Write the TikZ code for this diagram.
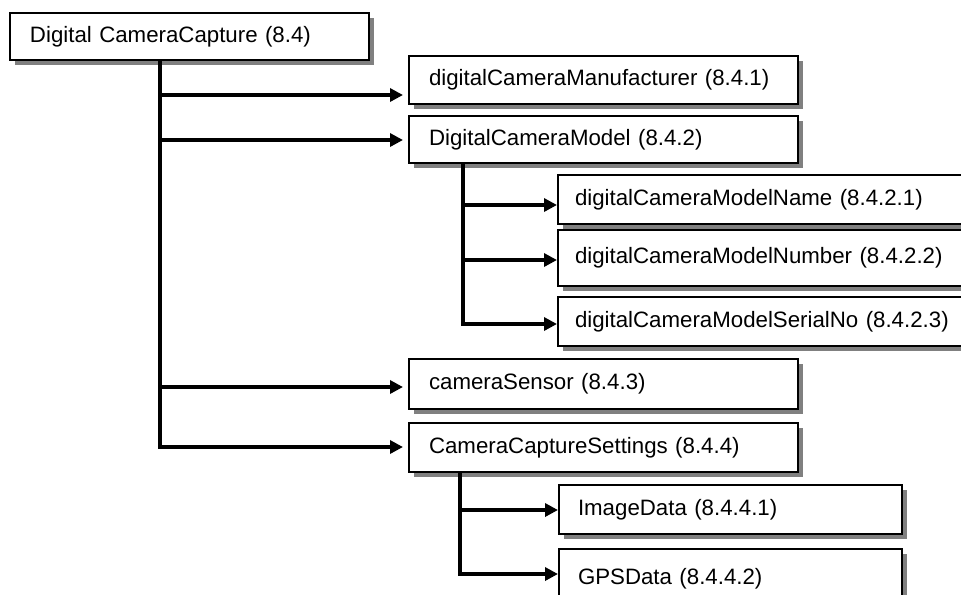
\documentclass[tikz,border=0pt]{standalone}
\usepackage{fontspec}
\setmainfont{Liberation Sans}
\usetikzlibrary{shadows,arrows.meta,calc}
\definecolor{shadowgray}{RGB}{128,128,128}
\begin{document}
\begin{tikzpicture}[x=0.75pt,y=-0.75pt,
  box/.style={draw=black, line width=1.5pt, fill=white, anchor=north west,
    inner ysep=0pt, align=left,
    drop shadow={shadow xshift=3.75pt, shadow yshift=-3.75pt, fill=shadowgray, opacity=1},
    font=\fontsize{16.7pt}{20pt}\selectfont},
  mainbox/.style={box, inner xsep=15pt, text width=261.75pt},
  subbox/.style={box, inner xsep=12.75pt, text width=306.75pt},
  leafbox/.style={box, inner xsep=14.25pt, text width=228.75pt},
  conn/.style={line width=3pt, draw=black},
  arr/.style={conn, -{Triangle[length=9.75pt, width=9.75pt]}},
  mainarr/.style={arr, shorten >=3.75pt},
]
\useasboundingbox (0,0) rectangle (961,594);
\clip (0,0) rectangle (961,594);

\node[box, inner xsep=15pt, text width=239.25pt, minimum height=35.25pt] (root) at (9,12) {Digital CameraCapture (8.4)};

\node[mainbox, minimum height=36pt] (b1) at (408,55) {digitalCameraManufacturer (8.4.1)};
\node[mainbox, minimum height=35.25pt] (b2) at (408,115) {DigitalCameraModel (8.4.2)};
\node[subbox, minimum height=36.75pt] (m1) at (557,174) {digitalCameraModelName (8.4.2.1)};
\node[subbox, minimum height=42pt] (m2) at (557,229) {digitalCameraModelNumber (8.4.2.2)};
\node[subbox, minimum height=36.75pt] (m3) at (557,296) {digitalCameraModelSerialNo (8.4.2.3)};
\node[mainbox, minimum height=37.5pt] (b3) at (408,358) {cameraSensor (8.4.3)};
\node[mainbox, minimum height=36.75pt] (b4) at (408,422) {CameraCaptureSettings (8.4.4)};
\node[leafbox, minimum height=36.75pt] (s1) at (558,484) {ImageData (8.4.4.1)};
\node[leafbox, minimum height=45pt] (s2) at (558,548) {GPSData (8.4.4.2)};

% main trunk
\coordinate (t0) at (root.south -| 160,0);
\path ($(b1.south west)+(0,-10)$) coordinate (e1);
\path ($(b2.south west)+(0,-24)$) coordinate (e2);
\path ($(b3.south west)+(0,-23)$) coordinate (e3);
\path ($(b4.south west)+(0,-26)$) coordinate (e4);
\draw[mainarr] (t0) |- (e4);
\draw[mainarr] (t0 |- e1) -- (e1);
\draw[mainarr] (t0 |- e2) -- (e2);
\draw[mainarr] (t0 |- e3) -- (e3);

% model sub trunk
\coordinate (t1) at (b2.south -| 463,0);
\path ($(m1.south west)+(0,-20)$) coordinate (f1);
\path ($(m2.south west)+(0,-27)$) coordinate (f2);
\path ($(m3.south west)+(0,-23)$) coordinate (f3);
\draw[arr] (t1) |- (f3);
\draw[arr] (t1 |- f1) -- (f1);
\draw[arr] (t1 |- f2) -- (f2);

% settings sub trunk
\coordinate (t2) at (b4.south -| 460,0);
\path ($(s1.south west)+(0,-25)$) coordinate (g1);
\path ($(s2.north west)+(0,26)$) coordinate (g2);
\draw[arr] (t2) |- (g2);
\draw[arr] (t2 |- g1) -- (g1);
\end{tikzpicture}
\end{document}
